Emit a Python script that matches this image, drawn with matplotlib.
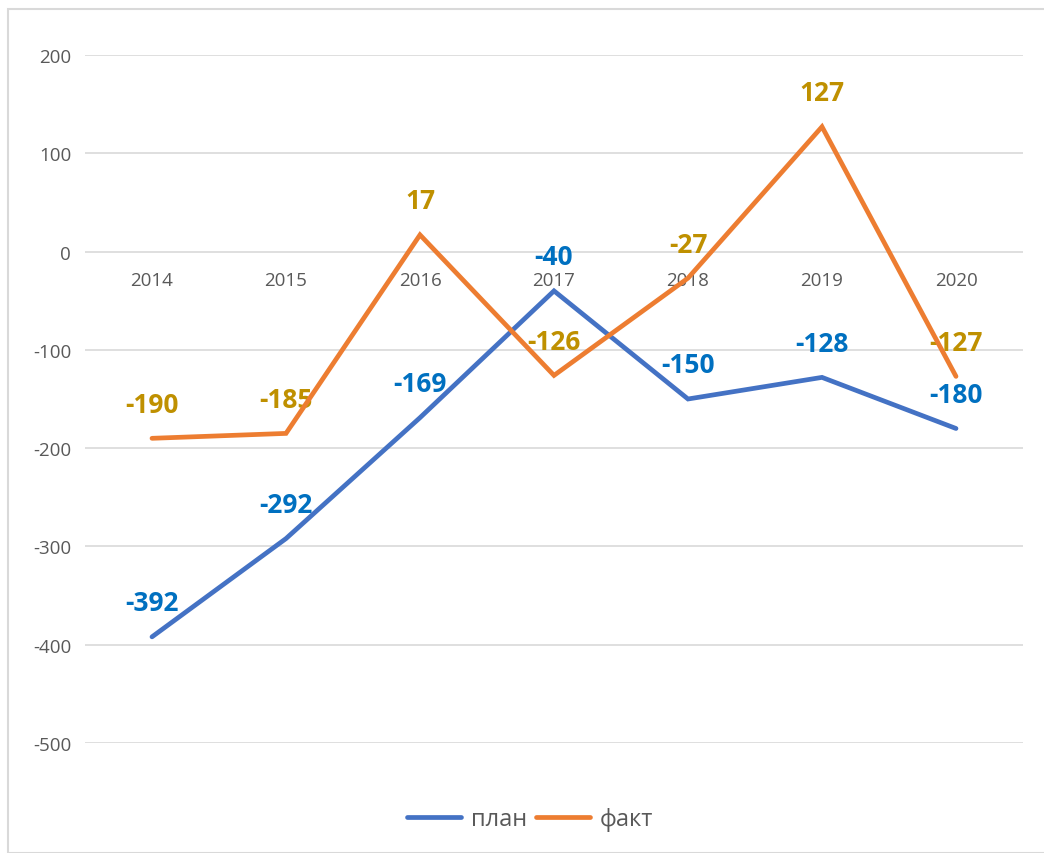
import matplotlib
matplotlib.use('Agg')
import matplotlib.pyplot as plt
from matplotlib.patches import Rectangle

years = ['2014', '2015', '2016', '2017', '2018', '2019', '2020']
plan = [-392, -292, -169, -40, -150, -128, -180]
fact = [-190, -185, 17, -126, -27, 127, -127]
y_ticks = [200, 100, 0, -100, -200, -300, -400, -500]

plan_color = '#4472C4'
fact_color = '#ED7D31'
plan_label_color = '#0070C0'
fact_label_color = '#BF9000'
text_gray = '#595959'
grid_gray = '#D9D9D9'

plt.rcParams['font.family'] = ['Open Sans', 'DejaVu Sans']

fig = plt.figure(figsize=(10.44, 8.54), dpi=100)
ax = fig.add_axes([85 / 1044, 1 - 744 / 854, (1023 - 85) / 1044, (744 - 56) / 854])

x = list(range(len(years)))
ax.set_xlim(-0.5, len(years) - 0.5)
ax.set_ylim(-500, 200)

ax.set_yticks(y_ticks)
ax.set_yticklabels([str(v) for v in y_ticks], color=text_gray, fontsize=13.5)
ax.tick_params(axis='y', length=0, pad=10)
ax.set_xticks([])
for s in ax.spines.values():
    s.set_visible(False)
ax.grid(axis='y', color=grid_gray, linewidth=1.2)
ax.set_axisbelow(True)

# category labels sit just under the zero line
for i, yr in enumerate(years):
    ax.annotate(yr, (i, 0), xytext=(0, -28), textcoords='offset pixels',
                ha='center', va='center', color=text_gray, fontsize=13.5, zorder=1)

l1, = ax.plot(x, plan, color=plan_color, lw=3.4, solid_capstyle='round',
              solid_joinstyle='miter', zorder=3, label='план')
l2, = ax.plot(x, fact, color=fact_color, lw=3.4, solid_capstyle='round',
              solid_joinstyle='miter', zorder=3, label='факт')

for xi, v in zip(x, plan):
    ax.annotate(str(v), (xi, v), xytext=(0, 34), textcoords='offset pixels',
                ha='center', va='center', color=plan_label_color,
                fontsize=19, fontweight='bold', zorder=2)
for xi, v in zip(x, fact):
    ax.annotate(str(v), (xi, v), xytext=(0, 34), textcoords='offset pixels',
                ha='center', va='center', color=fact_label_color,
                fontsize=19, fontweight='bold', zorder=2)

fig.legend(handles=[l1, l2], loc='center', bbox_to_anchor=(530 / 1044, 1 - 820 / 854),
           ncol=2, frameon=False, fontsize=17, labelcolor=text_gray,
           handlelength=2.3, handletextpad=0.4, columnspacing=0.4)

# chart frame
fig.patches.append(Rectangle((8 / 1044, 0), 1.0, 1 - 10 / 854, transform=fig.transFigure,
                             fill=False, edgecolor='#D9D9D9', linewidth=1.5, zorder=0))

fig.savefig('out.png', dpi=100)
